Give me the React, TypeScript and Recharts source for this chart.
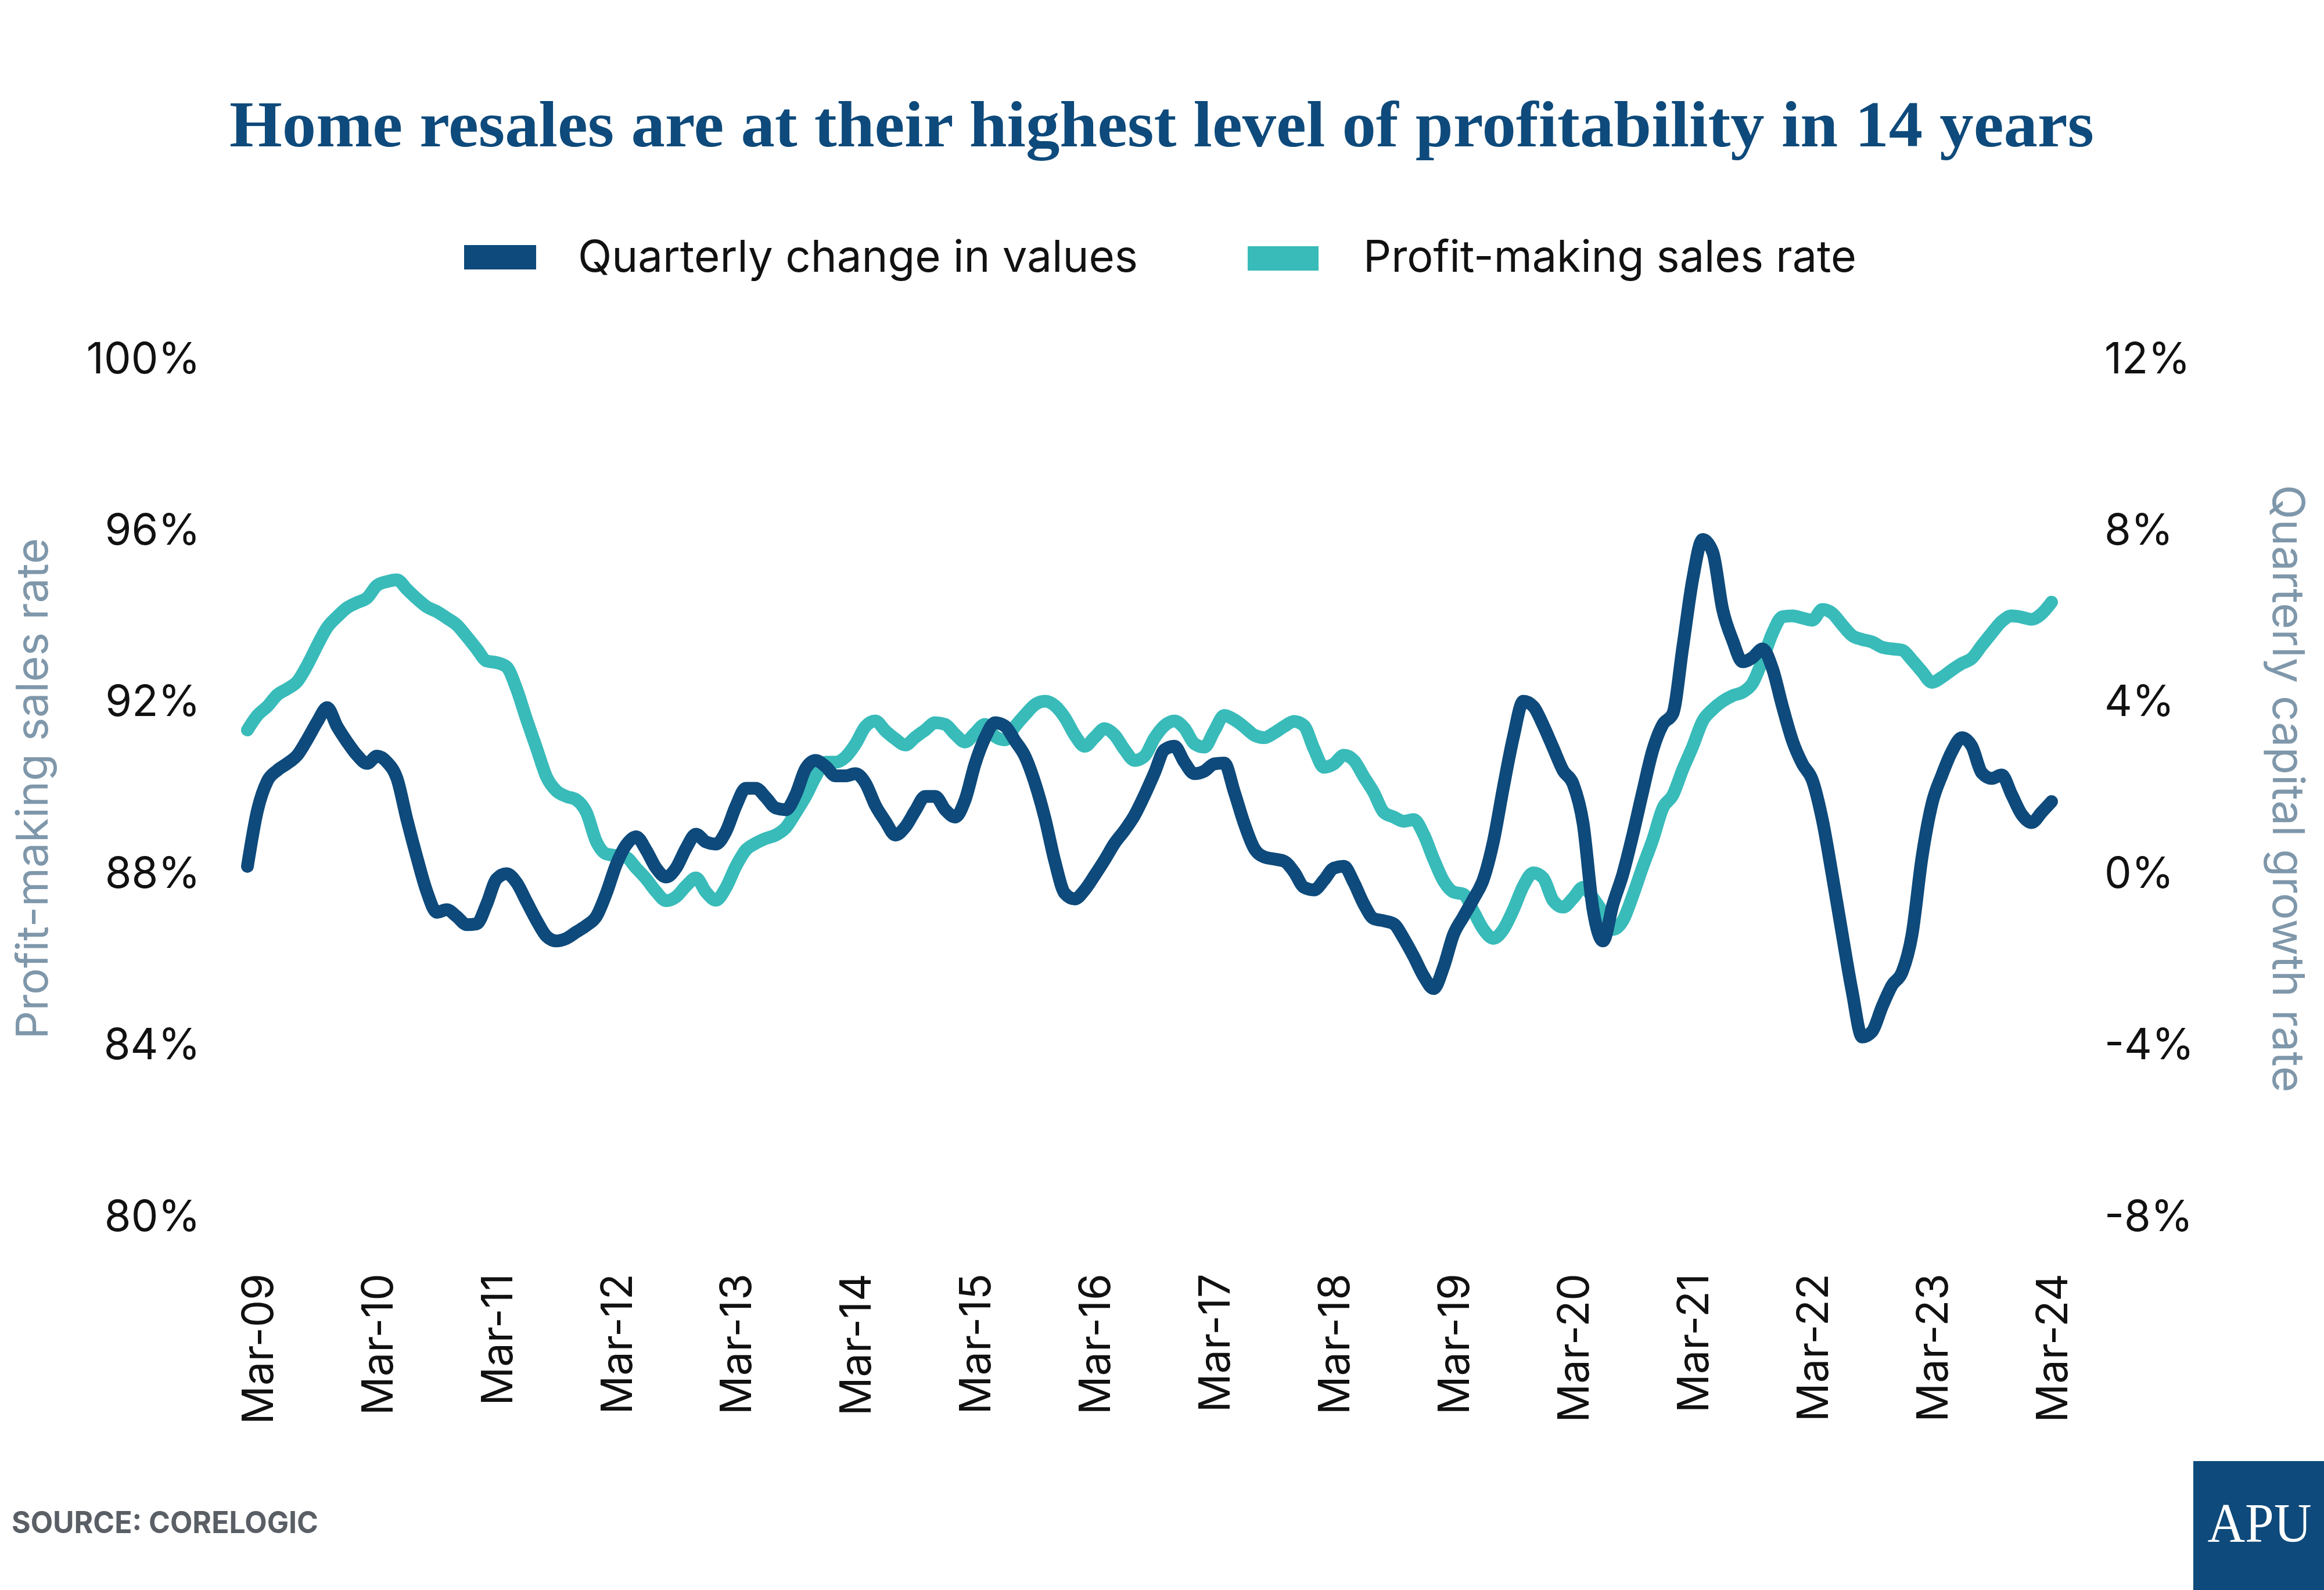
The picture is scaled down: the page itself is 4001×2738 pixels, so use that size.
import React from 'react';
import { LineChart, Line, XAxis, YAxis } from 'recharts';

// monthly series, Feb-09 .. Mar-24
const MONTH_NAMES = ['Jan', 'Feb', 'Mar', 'Apr', 'May', 'Jun', 'Jul', 'Aug', 'Sep', 'Oct', 'Nov', 'Dec'];
const FIRST_YEAR = 2009;
const FIRST_MONTH = 1; // Feb

const profitRate = [
  91.32, 91.66, 91.87, 92.14, 92.28, 92.45, 92.83, 93.29, 93.71, 93.96,
  94.17, 94.29, 94.4, 94.69, 94.78, 94.82, 94.6, 94.38, 94.19, 94.08,
  93.93, 93.77, 93.5, 93.21, 92.93, 92.89, 92.79, 92.28, 91.57, 90.9,
  90.23, 89.9, 89.77, 89.69, 89.4, 88.72, 88.43, 88.39, 88.35, 88.1,
  87.85, 87.55, 87.34, 87.43, 87.68, 87.87, 87.54, 87.35, 87.64, 88.14,
  88.52, 88.68, 88.79, 88.87, 89.04, 89.39, 89.77, 90.23, 90.57, 90.57,
  90.69, 90.99, 91.4, 91.53, 91.3, 91.11, 90.97, 91.15, 91.32, 91.49,
  91.45, 91.22, 91.04, 91.25, 91.45, 91.17, 91.09, 91.4, 91.67, 91.91,
  91.99, 91.89, 91.61, 91.2, 90.94, 91.15, 91.35, 91.2, 90.86, 90.61,
  90.71, 91.13, 91.42, 91.53, 91.36, 91.0, 90.92, 91.3, 91.66, 91.56,
  91.39, 91.2, 91.14, 91.25, 91.4, 91.52, 91.42, 90.88, 90.45, 90.53,
  90.73, 90.61, 90.23, 89.86, 89.4, 89.29, 89.19, 89.23, 88.89, 88.31,
  87.8, 87.54, 87.49, 87.09, 86.67, 86.46, 86.67, 87.13, 87.68, 87.99,
  87.87, 87.34, 87.19, 87.4, 87.65, 87.4, 87.06, 86.67, 86.88, 87.47,
  88.14, 88.77, 89.5, 89.8, 90.4, 90.94, 91.53, 91.8, 91.99, 92.12,
  92.2, 92.41, 92.95, 93.58, 93.96, 93.98, 93.93, 93.88, 94.13, 94.04,
  93.77, 93.52, 93.43, 93.37, 93.25, 93.21, 93.18, 92.95, 92.68, 92.43,
  92.55, 92.72, 92.87, 92.99, 93.29, 93.58, 93.85, 93.98, 93.95, 93.9,
  94.03, 94.3,
];

const quarterlyChange = [
  0.14, 1.44, 2.13, 2.38, 2.54, 2.73, 3.1, 3.51, 3.84, 3.4,
  3.04, 2.73, 2.54, 2.71, 2.57, 2.19, 1.23, 0.35, -0.45, -0.93,
  -0.87, -1.03, -1.22, -1.2, -0.74, -0.15, -0.03, -0.24, -0.68, -1.12,
  -1.49, -1.6, -1.54, -1.39, -1.24, -1.03, -0.49, 0.18, 0.64, 0.83,
  0.52, 0.1, -0.11, 0.1, 0.56, 0.89, 0.71, 0.66, 0.95, 1.54,
  1.96, 1.96, 1.75, 1.5, 1.46, 1.81, 2.42, 2.61, 2.47, 2.25,
  2.25, 2.3, 2.08, 1.56, 1.19, 0.87, 1.06, 1.44, 1.77, 1.77,
  1.46, 1.29, 1.69, 2.53, 3.14, 3.49, 3.41, 3.07, 2.71, 2.09,
  1.27, 0.26, -0.49, -0.62, -0.41, -0.07, 0.29, 0.68, 0.98, 1.33,
  1.8, 2.32, 2.86, 2.94, 2.57, 2.3, 2.36, 2.53, 2.55, 1.88,
  1.14, 0.56, 0.36, 0.31, 0.26, 0.01, -0.35, -0.41, -0.18, 0.1,
  0.14, -0.24, -0.74, -1.08, -1.13, -1.2, -1.54, -1.96, -2.42, -2.71,
  -2.21, -1.45, -1.03, -0.62, -0.16, 0.72, 1.98, 3.15, 3.99, 3.87,
  3.43, 2.9, 2.37, 2.06, 1.14, -0.87, -1.6, -0.74, -0.03, 0.89,
  1.9, 2.86, 3.45, 3.7, 5.25, 6.84, 7.76, 7.47, 6.13, 5.41,
  4.91, 5.01, 5.21, 4.75, 3.87, 3.07, 2.53, 2.15, 1.23, -0.07,
  -1.45, -2.79, -3.84, -3.71, -3.13, -2.63, -2.33, -1.45, 0.35, 1.6,
  2.27, 2.82, 3.14, 2.94, 2.32, 2.19, 2.27, 1.81, 1.35, 1.16,
  1.4, 1.65,
];

const leftTicks = [80, 84, 88, 92, 96, 100];
const rightTicks = [-8, -4, 0, 4, 8, 12];

const DARK = '#0e4a7b';
const TEAL = '#38bbb9';
const AXIS_GREY = '#7f97aa';
const SANS = 'Inter, "Noto Sans", sans-serif';

const months = profitRate.map((_, i) => {
  const n = FIRST_MONTH + i;
  const yr = FIRST_YEAR + Math.floor(n / 12);
  return `${MONTH_NAMES[n % 12]}-${String(yr).slice(2)}`;
});

const data = months.map((month, i) => ({
  month,
  profit: profitRate[i],
  change: quarterlyChange[i],
}));

const XTick = ({ x, y, payload }: any) => {
  if (!String(payload.value).startsWith('Mar')) return <g />;
  return (
    <g transform={`translate(${x},${y})`}>
      <text transform="rotate(-90)" textAnchor="end" dy="0.36em" fontFamily={SANS} fontSize={74} fill="#111">
        {payload.value}
      </text>
    </g>
  );
};

const LeftTick = ({ x, y, payload }: any) => (
  <text x={x} y={y} dy="0.36em" textAnchor="end" fontFamily={SANS} fontSize={74} fill="#111">
    {payload.value}%
  </text>
);

const RightTick = ({ x, y, payload }: any) => (
  <text x={x} y={y} dy="0.36em" textAnchor="start" fontFamily={SANS} fontSize={74} fill="#111">
    {payload.value}%
  </text>
);

export default function App() {
  return (
    <div style={{ position: 'absolute', left: 0, top: 0, width: 4001, height: 2738, background: '#fff' }}>
      <LineChart width={4001} height={2738} data={data} margin={{ top: 616, right: 0, bottom: 0, left: 0 }}>
        <XAxis
          dataKey="month"
          interval={0}
          tick={<XTick />}
          tickLine={false}
          axisLine={false}
          tickSize={0}
          tickMargin={100}
          height={645}
        />
        <YAxis
          yAxisId="left"
          orientation="left"
          domain={[80, 100]}
          ticks={leftTicks}
          width={426}
          tickLine={false}
          axisLine={false}
          tickSize={0}
          tickMargin={81}
          tick={<LeftTick />}
        />
        <YAxis
          yAxisId="right"
          orientation="right"
          domain={[-8, 12]}
          ticks={rightTicks}
          width={469}
          tickLine={false}
          axisLine={false}
          tickSize={0}
          tickMargin={91}
          tick={<RightTick />}
        />
        <Line
          yAxisId="left"
          type="monotone"
          dataKey="profit"
          name="Profit-making sales rate"
          stroke={TEAL}
          strokeWidth={22}
          strokeLinecap="round"
          strokeLinejoin="round"
          dot={false}
          isAnimationActive={false}
        />
        <Line
          yAxisId="right"
          type="monotone"
          dataKey="change"
          name="Quarterly change in values"
          stroke={DARK}
          strokeWidth={22}
          strokeLinecap="round"
          strokeLinejoin="round"
          dot={false}
          isAnimationActive={false}
        />
      </LineChart>

      <svg width={4001} height={2738} style={{ position: 'absolute', left: 0, top: 0, pointerEvents: 'none' }}>
        <text
          x={2000}
          y={252}
          textAnchor="middle"
          fontFamily='"Liberation Serif", serif'
          fontWeight={700}
          fontSize={112}
          fill={DARK}
          textLength={3210}
          lengthAdjust="spacingAndGlyphs"
        >
          Home resales are at their highest level of profitability in 14 years
        </text>

        <rect x={799} y={422} width={124} height={42} fill={DARK} />
        <text x={995} y={468} fontFamily={SANS} fontSize={76} fill="#111" textLength={964} lengthAdjust="spacingAndGlyphs">
          Quarterly change in values
        </text>
        <rect x={2148} y={424} width={122} height={42} fill={TEAL} />
        <text x={2347} y={468} fontFamily={SANS} fontSize={76} fill="#111" textLength={849} lengthAdjust="spacingAndGlyphs">
          Profit-making sales rate
        </text>

        <text
          transform="translate(82,1358) rotate(-90)"
          textAnchor="middle"
          fontFamily={SANS}
          fontSize={76}
          fill={AXIS_GREY}
          textLength={863}
          lengthAdjust="spacingAndGlyphs"
        >
          Profit-making sales rate
        </text>
        <text
          transform="translate(3913,1358) rotate(90)"
          textAnchor="middle"
          fontFamily={SANS}
          fontSize={76}
          fill={AXIS_GREY}
          textLength={1046}
          lengthAdjust="spacingAndGlyphs"
        >
          Quarterly capital growth rate
        </text>

        <text x={20} y={2640} fontFamily={SANS} fontWeight={700} fontSize={52} fill="#5a5f66" textLength={528} lengthAdjust="spacingAndGlyphs">
          SOURCE: CORELOGIC
        </text>

        <rect x={3776} y={2516} width={225} height={222} fill={DARK} />
        <text
          x={3890}
          y={2655}
          textAnchor="middle"
          fontFamily='"Liberation Serif", serif'
          fontSize={96}
          fill="#fff"
          textLength={179}
          lengthAdjust="spacingAndGlyphs"
        >
          APU
        </text>
      </svg>
    </div>
  );
}
